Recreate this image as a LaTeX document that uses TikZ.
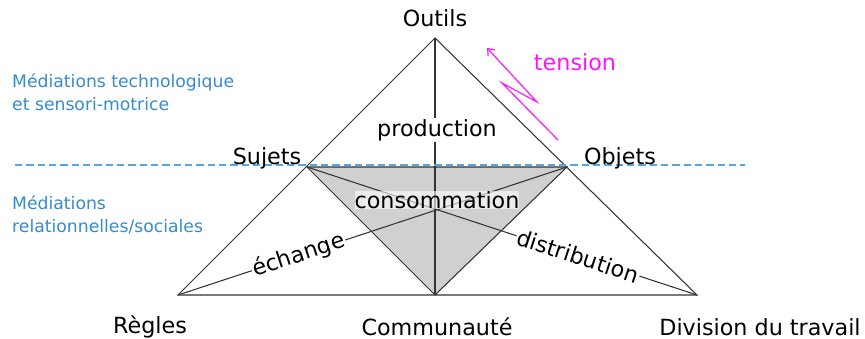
\documentclass[tikz,border=0pt]{standalone}
\usepackage{fontspec}
\setmainfont{DejaVu Sans}
\usepackage{tikz}
\usetikzlibrary{calc,arrows.meta}

\definecolor{medblue}{RGB}{52,140,205}
\definecolor{lineblue}{RGB}{90,165,220}
\definecolor{trigray}{RGB}{208,208,208}
\definecolor{tensionpink}{RGB}{255,20,255}

\tikzset{
  pole/.style={font=\fontsize{19}{22}\selectfont, inner sep=1pt},
  act/.style={font=\fontsize{19}{22}\selectfont, fill=white, inner sep=1pt},
  mediation/.style={font=\fontsize{14.7}{20}\selectfont, text=medblue, align=left, anchor=west, inner sep=0pt},
  edge/.style={draw=black!80, line width=0.9pt}
}

\begin{document}
\begin{tikzpicture}[x=0.03cm,y=-0.03cm]
\useasboundingbox (0,0) rectangle (865,339);
\coordinate (O) at (435,38);
\coordinate (S) at (307,167);
\coordinate (J) at (567,167);
\coordinate (R) at (178,295);
\coordinate (C) at (435,295);
\coordinate (D) at (697,295);

\fill [trigray] (S)--(J)--(C)--cycle;
\draw [edge] (R)--(O)--(D)--cycle;
\draw [edge] (S)--(J)--(C)--cycle;
\draw [edge] (O)--(C);
\draw [edge] (J)--(R) node[act, pos=0.69, sloped] (echange) {échange};
\draw [edge] (S)--(D) node[act, pos=0.695, sloped] (distribution) {distribution};

\node [act] (production) at (437,130) {production};
\node [act, fill opacity=0.6, text opacity=1, inner sep=0pt] (consommation) at (437,200) {consommation};

\draw [lineblue, line width=1.8pt, dash pattern=on 0.22cm off 0.12cm] (15,165)--(745,165);

\node [pole] (outils) at (435,18) {Outils};
\node [pole] (sujets) at (267,158) {Sujets};
\node [pole] (objets) at (620,158) {Objets};
\node [pole] (regles) at (150,327) {Règles};
\node [pole] (communaute) at (437,327) {Communauté};
\node [pole] (division) at (760,327) {Division du travail};

\node [mediation] (techno) at (12,92) {Médiations technologique\\et sensori-motrice};
\node [mediation] (social) at (12,215) {Médiations\\relationnelles/sociales};

% tension
\node [pole, text=tensionpink] (tension) at (575,62) {tension};
\draw [tensionpink, line width=1pt, -{Straight Barb[length=5pt,width=8pt]}] (558,140)--(502,83)--(537,102)--(487,48);

\end{tikzpicture}
\end{document}
